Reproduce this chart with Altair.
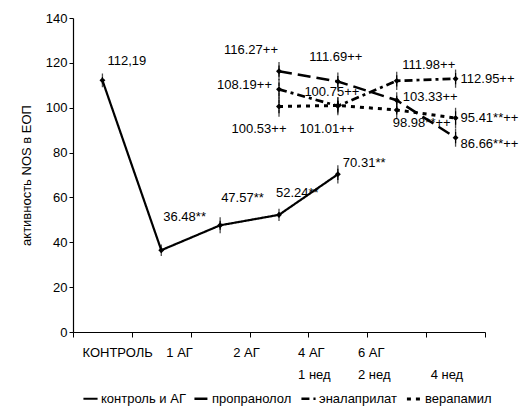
import altair as alt
import pandas as pd

FONT = "Liberation Sans, Arial, sans-serif"

# ---- data ----
series_names = ["контроль и АГ", "пропранолол", "эналаприлат", "верапамил"]

control_x = [0, 1, 2, 3, 4]
control_vals = [112.19, 36.48, 47.57, 52.24, 70.31]
control_err = [1.5, 1.0, 2.0, 1.2, 2.5]
control_labels = ["112,19", "36.48**", "47.57**", "52.24**", "70.31**"]

drug_x = [3, 4, 5, 6]
propranolol_vals = [116.27, 111.69, 103.33, 86.66]
propranolol_err = [2.5, 2.5, 2.0, 2.5]
propranolol_labels = ["116.27++", "111.69++", "103.33++", "86.66**++"]

enalaprilat_vals = [108.19, 100.75, 111.98, 112.95]
enalaprilat_err = [3.0, 2.5, 2.5, 2.5]
enalaprilat_labels = ["108.19++", "100.75++", "111.98++", "112.95++"]

verapamil_vals = [100.53, 101.01, 98.98, 95.41]
verapamil_err = [3.0, 2.0, 2.0, 3.0]
verapamil_labels = ["100.53++", "101.01++", "98.98**++", "95.41**++"]

tick_line1 = ["КОНТРОЛЬ", "1 АГ", "2 АГ", "4 АГ", "6 АГ", "", "", ""]
tick_line2 = ["", "", "", "1 нед", "  2 нед", "", "4 нед", ""]

# ---- table ----
rows = []
def add(name, xs, vals, errs, labels):
    for x, v, e, l in zip(xs, vals, errs, labels):
        rows.append({"series": name, "x": x, "value": v, "err": e, "label": l})

add(series_names[0], control_x, control_vals, control_err, control_labels)
add(series_names[1], drug_x, propranolol_vals, propranolol_err, propranolol_labels)
add(series_names[2], drug_x, enalaprilat_vals, enalaprilat_err, enalaprilat_labels)
add(series_names[3], drug_x, verapamil_vals, verapamil_err, verapamil_labels)
df = pd.DataFrame(rows)

# label placement styles (dx, dy, align) per series, per point
label_styles = {
    series_names[0]: [(5, -19, "left"), (2, -33, "left"), (1, -27, "left"), (-3, -22, "left"), (5, -11, "left")],
    series_names[1]: [(-28, -21, "center"), (-2, -24, "center"), (6, -3, "left"), (5, 6, "left")],
    series_names[2]: [(-7, -4, "right"), (-6, -14, "center"), (32, -16, "center"), (5, 0, "left")],
    series_names[3]: [(-20, 22, "center"), (-11, 24, "center"), (25, 13, "center"), (5, 0, "left")],
}

# ---- encodings ----
labels_js = "[" + ",".join(
    "['%s','%s']" % (a, b) for a, b in zip(tick_line1, tick_line2)
) + "][round(datum.value + 0.5)]"

label_offsets = [9, 34, 42, 48, 49, 0, 4, 0]
offset_cond = {
    "condition": [
        {"test": "round(datum.value + 0.5) == %d" % i, "value": off}
        for i, off in enumerate(label_offsets)
    ],
    "value": 0,
}

x_axis = alt.Axis(
    values=[i - 0.5 for i in range(8)],
    labelExpr=labels_js,
    labelAlign="left",
    labelBaseline="top",
    labelOffset=offset_cond,
    labelLineHeight=22,
    labelPadding=9,
    labelOverlap=False,
    labelBound=False,
    labelFlush=False,
    tickSize=5,
    grid=False,
    title=None,
)
X = alt.X("x:Q", scale=alt.Scale(domain=[-0.5, 6.5], nice=False, zero=False), axis=x_axis)

y_axis = alt.Axis(
    values=[0, 20, 40, 60, 80, 100, 120, 140],
    grid=False,
    tickSize=4,
    labelPadding=2,
    title="активность NOS в ЕОП",
    titlePadding=12,
)
y_scale = alt.Scale(domain=[0, 140], nice=False)

def Y(field):
    return alt.Y(field, scale=y_scale, axis=y_axis)

base = alt.Chart(df)

dash_range = [[1, 0], [13, 6], [8, 4, 3, 4], [4, 5]]
width_range = [2.2, 3, 3, 3]

lines = base.mark_line(color="black").encode(
    x=X,
    y=Y("value:Q"),
    strokeDash=alt.StrokeDash(
        "series:N",
        scale=alt.Scale(domain=series_names, range=dash_range),
        legend=alt.Legend(
            title=None,
            orient="none",
            legendX=9,
            legendY=372,
            direction="horizontal",
            symbolType="stroke",
            symbolStrokeWidth=2.5,
            symbolStrokeColor="black",
            symbolSize=200,
            labelOffset=2,
            columnPadding=3,
            labelFontSize=13,
            labelFont=FONT,
        ),
    ),
    strokeWidth=alt.StrokeWidth(
        "series:N", scale=alt.Scale(domain=series_names, range=width_range), legend=None
    ),
)

err = base.transform_calculate(lo="datum.value - datum.err", hi="datum.value + datum.err")
rules = err.mark_rule(color="black", strokeWidth=1.2).encode(x=X, y=Y("lo:Q"), y2="hi:Q")
cap_lo = err.mark_tick(color="black", size=7, thickness=1.3).encode(x=X, y=Y("lo:Q"))
cap_hi = err.mark_tick(color="black", size=7, thickness=1.3).encode(x=X, y=Y("hi:Q"))

points = base.mark_point(shape="diamond", filled=True, size=35, color="black", opacity=1).encode(
    x=X, y=Y("value:Q")
)

text_layers = []
for s in series_names:
    xs = control_x if s == series_names[0] else drug_x
    for xi, (dx, dy, al) in zip(xs, label_styles[s]):
        t = base.transform_filter(
            (alt.datum.series == s) & (alt.datum.x == xi)
        ).mark_text(
            dx=dx, dy=dy, align=al, baseline="middle", fontSize=13, font=FONT, color="black"
        ).encode(x=X, y=Y("value:Q"), text="label:N")
        text_layers.append(t)

chart = alt.layer(lines, rules, cap_lo, cap_hi, points, *text_layers).properties(
    width=412,
    height=314,
    autosize=alt.AutoSizeParams(type="none"),
    padding={"left": 73, "top": 18, "right": 45, "bottom": 75},
    background="white",
).configure_view(stroke=None).configure_axis(
    labelFont=FONT,
    titleFont=FONT,
    labelFontSize=13,
    titleFontSize=13,
    titleFontWeight="normal",
    labelColor="black",
    titleColor="black",
    domainColor="black",
    tickColor="black",
    domainWidth=1.2,
)

chart.save("out.html", embed_options={"renderer": "svg", "actions": False})
